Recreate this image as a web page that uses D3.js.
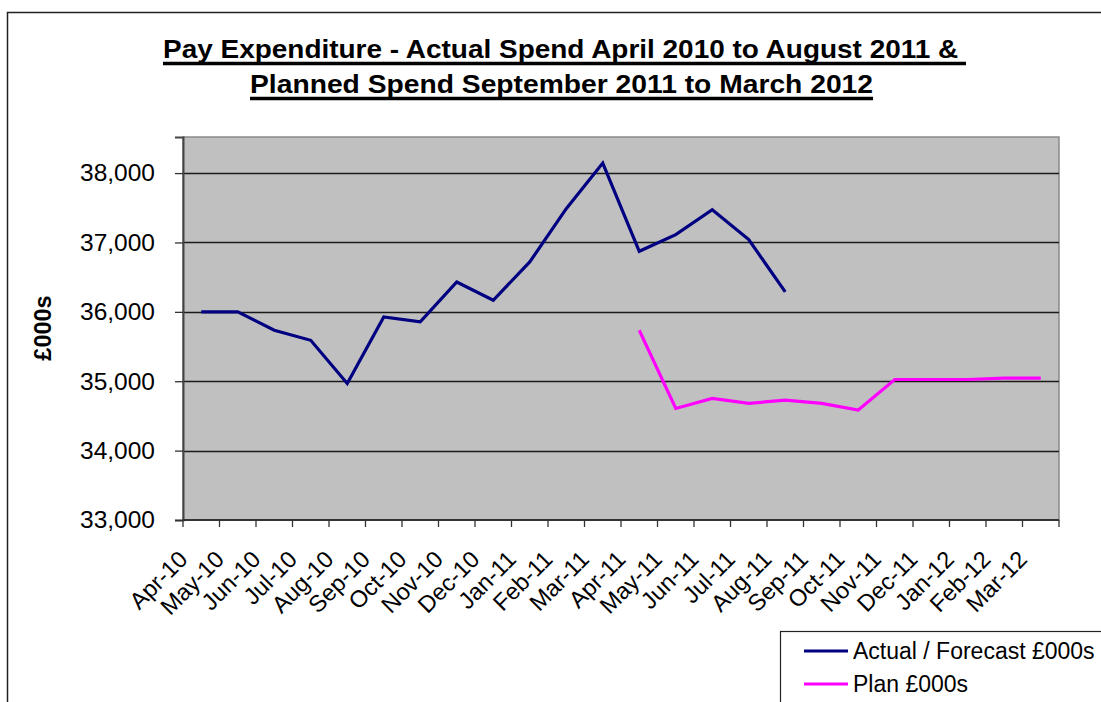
<!DOCTYPE html>
<html>
<head>
<meta charset="utf-8">
<script src="https://cdn.jsdelivr.net/npm/d3@7"></script>
<style>
  html, body { margin: 0; padding: 0; background: #fff; }
  svg text { font-family: "Liberation Sans", Arial, sans-serif; fill: #000; }
</style>
</head>
<body>
<svg id="chart" width="1101" height="702"></svg>
<script>
const titleLines = ["Pay Expenditure - Actual Spend April 2010 to August 2011 & ",
                    "Planned Spend September 2011 to March 2012"];
const yAxisTitle = "£000s";
const months = ["Apr-10","May-10","Jun-10","Jul-10","Aug-10","Sep-10","Oct-10","Nov-10",
                "Dec-10","Jan-11","Feb-11","Mar-11","Apr-11","May-11","Jun-11","Jul-11",
                "Aug-11","Sep-11","Oct-11","Nov-11","Dec-11","Jan-12","Feb-12","Mar-12"];
const actualMonths = ["Apr-10","May-10","Jun-10","Jul-10","Aug-10","Sep-10","Oct-10","Nov-10",
                      "Dec-10","Jan-11","Feb-11","Mar-11","Apr-11","May-11","Jun-11","Jul-11","Aug-11"];
const actualValues = [36000,36000,35735,35590,34968,35927,35855,36430,36167,36719,37487,38144,
                      36873,37113,37473,37041,36287];
const planMonths = ["Apr-11","May-11","Jun-11","Jul-11","Aug-11","Sep-11","Oct-11","Nov-11",
                    "Dec-11","Jan-12","Feb-12","Mar-12"];
const planValues = [35735,34608,34752,34680,34728,34680,34584,35025,35025,35025,35044,35044];
const yTicks = [33000,34000,35000,36000,37000,38000];
const seriesNames = ["Actual / Forecast £000s","Plan £000s"];
const seriesColors = ["#000080","#FF00FF"];

const svg = d3.select("#chart");
const plot = {left: 183, right: 1059, top: 137, bottom: 520};

// outer chart border
svg.append("path")
  .attr("d", `M7.5,702 V12.5 H1101`)
  .attr("fill", "none").attr("stroke", "#222").attr("stroke-width", 1.5);

// title
const titleG = svg.append("g");
const titleY = [58, 93];
const titleX = [163, 250];
const titleW = [803, 623];
titleLines.forEach((t, i) => {
  titleG.append("text")
    .attr("x", titleX[i]).attr("y", titleY[i])
    .attr("text-anchor", "start")
    .style("white-space", "pre")
    .attr("font-size", 26).attr("font-weight", "bold")
    .attr("textLength", titleW[i]).attr("lengthAdjust", "spacingAndGlyphs")
    .text(t);
  titleG.append("line")
    .attr("x1", titleX[i]).attr("x2", titleX[i] + titleW[i])
    .attr("y1", titleY[i] + 5.5).attr("y2", titleY[i] + 5.5)
    .attr("stroke", "#000").attr("stroke-width", 3.4);
});

const x = d3.scaleBand().domain(months).range([plot.left, plot.right]).padding(0);
const y = d3.scaleLinear().domain([33000, 38520]).range([plot.bottom, plot.top]);
const xc = m => x(m) + x.bandwidth() / 2;

// plot background
svg.append("rect")
  .attr("x", plot.left).attr("y", plot.top)
  .attr("width", plot.right - plot.left).attr("height", plot.bottom - plot.top)
  .attr("fill", "#C0C0C0").attr("stroke", "#8a8a8a").attr("stroke-width", 1.5);

// gridlines
svg.append("g").selectAll("line").data(yTicks.slice(1)).join("line")
  .attr("x1", plot.left).attr("x2", plot.right)
  .attr("y1", d => Math.round(y(d)) + 0.5).attr("y2", d => Math.round(y(d)) + 0.5)
  .attr("stroke", "#1a1a1a").attr("stroke-width", 1.3);

// y axis
const yAxis = svg.append("g").attr("transform", `translate(${plot.left},0)`)
  .call(d3.axisLeft(y).tickValues(yTicks).tickSize(8).tickPadding(20)
        .tickFormat(d3.format(",")));
yAxis.select(".domain").attr("stroke", "#444").attr("stroke-width", 2);
yAxis.selectAll(".tick line").attr("stroke", "#333").attr("stroke-width", 1.3);
yAxis.selectAll(".tick text").attr("font-size", 24.5).attr("fill", "#000")
  .style("font-family", '"Liberation Sans", Arial, sans-serif');

// x axis (ticks at category boundaries)
const xAxisG = svg.append("g");
xAxisG.append("line")
  .attr("x1", plot.left).attr("x2", plot.right)
  .attr("y1", plot.bottom).attr("y2", plot.bottom)
  .attr("stroke", "#333").attr("stroke-width", 2);
const boundaries = months.map(m => x(m)).concat([plot.right]);
xAxisG.selectAll("line.tk").data(boundaries).join("line").attr("class", "tk")
  .attr("x1", d => d).attr("x2", d => d)
  .attr("y1", plot.bottom).attr("y2", plot.bottom + 7)
  .attr("stroke", "#333").attr("stroke-width", 1.3);
xAxisG.selectAll("text").data(months).join("text")
  .attr("transform", d => `translate(${xc(d) - 18},555) rotate(-45)`)
  .attr("text-anchor", "end").attr("dy", "0.35em")
  .attr("font-size", 23.5)
  .text(d => d);

// y axis title
svg.append("text")
  .attr("transform", "translate(43,328) rotate(-90)")
  .attr("text-anchor", "middle").attr("dy", "0.35em")
  .attr("font-size", 23.5).attr("font-weight", "bold")
  .text(yAxisTitle);

// lines
const line = d3.line().x(d => xc(d[0])).y(d => y(d[1]));
svg.append("path")
  .datum(actualMonths.map((m, i) => [m, actualValues[i]]))
  .attr("d", line).attr("fill", "none")
  .attr("stroke", seriesColors[0]).attr("stroke-width", 3.2)
  .attr("stroke-linejoin", "miter");
svg.append("path")
  .datum(planMonths.map((m, i) => [m, planValues[i]]))
  .attr("d", line).attr("fill", "none")
  .attr("stroke", seriesColors[1]).attr("stroke-width", 3.2)
  .attr("stroke-linejoin", "miter");

// legend
const lg = svg.append("g");
lg.append("rect").attr("x", 780.5).attr("y", 631.5).attr("width", 340).attr("height", 100)
  .attr("fill", "#fff").attr("stroke", "#222").attr("stroke-width", 1.2);
const legendY = [651, 684];
seriesNames.forEach((n, i) => {
  lg.append("line").attr("x1", 804).attr("x2", 848)
    .attr("y1", legendY[i]).attr("y2", legendY[i])
    .attr("stroke", seriesColors[i]).attr("stroke-width", 3.2);
  lg.append("text").attr("x", 853).attr("y", legendY[i]).attr("dy", "0.35em")
    .attr("font-size", 23).text(n);
});
</script>
</body>
</html>
